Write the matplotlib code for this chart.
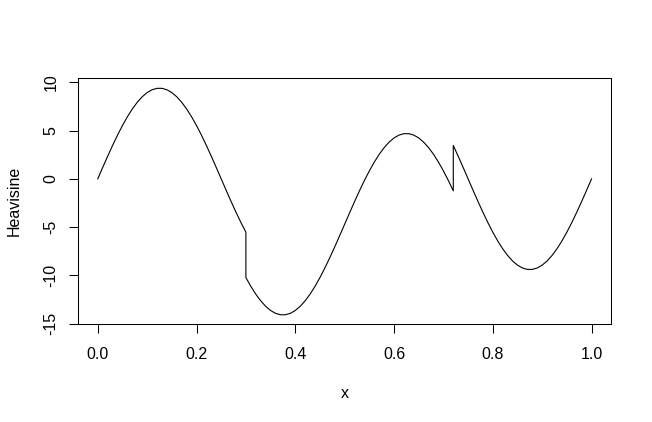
import matplotlib
matplotlib.use('Agg')
import matplotlib.pyplot as plt
import numpy as np

plt.rcParams['font.family'] = ['Liberation Sans', 'DejaVu Sans']

# Heavisine curve read off the picture, sampled every 0.01 on x,
# split at the two jumps (x = 0.30 and x = 0.72)
seg1_x = np.linspace(0.0, 0.30, 31)
seg1_y = [0.0, 1.178, 2.338, 3.460, 4.529, 5.525, 6.434, 7.243, 7.936, 8.505,
          8.940, 9.234, 9.381, 9.381, 9.234, 8.940, 8.505, 7.936, 7.243, 6.434,
          5.525, 4.529, 3.460, 2.338, 1.178, 0.0, -1.178, -2.338, -3.460, -4.529,
          -5.525]

seg2_x = np.linspace(0.30, 0.72, 43)
seg2_y = [-10.225, -11.134, -11.943, -12.636, -13.205, -13.640, -13.934, -14.081,
          -14.081, -13.934, -13.640, -13.205, -12.636, -11.943, -11.134, -10.225,
          -9.229, -8.160, -7.038, -5.878, -4.700, -3.522, -2.362, -1.240, -0.171,
          0.825, 1.734, 2.543, 3.236, 3.805, 4.240, 4.534, 4.681, 4.681, 4.534,
          4.240, 3.805, 3.236, 2.543, 1.734, 0.825, -0.171, -1.240]

seg3_x = np.linspace(0.72, 1.0, 29)
seg3_y = [3.460, 2.338, 1.178, 0.0, -1.178, -2.338, -3.460, -4.529, -5.525,
          -6.434, -7.243, -7.936, -8.505, -8.940, -9.234, -9.381, -9.381, -9.234,
          -8.940, -8.505, -7.936, -7.243, -6.434, -5.525, -4.529, -3.460, -2.338,
          -1.178, 0.0]

x_ticks = [0.0, 0.2, 0.4, 0.6, 0.8, 1.0]
x_ticklabels = ['0.0', '0.2', '0.4', '0.6', '0.8', '1.0']
y_ticks = [-15, -10, -5, 0, 5, 10]
y_ticklabels = ['-15', '-10', '-5', '0', '5', '10']

x = np.concatenate([seg1_x, seg2_x, seg3_x])
y = np.concatenate([seg1_y, seg2_y, seg3_y])

W, H = 652, 422
fig = plt.figure(figsize=(W / 100, H / 100), dpi=100)
ax = fig.add_axes([78 / W, 1 - 324.3 / H, (611.3 - 78) / W, (324.3 - 78.3) / H])

ax.plot(x, y, color='black', lw=0.8)

ax.set_xlim(-0.04, 1.04)
ax.set_ylim(-15.07, 10.42)

fs = 11.5
ax.set_xticks(x_ticks)
ax.set_xticklabels(x_ticklabels, fontsize=fs)
ax.set_yticks(y_ticks)
ax.set_yticklabels(y_ticklabels, fontsize=fs, rotation=90, va='center')
ax.tick_params(axis='x', direction='out', length=6.5, width=0.75, pad=10)
ax.tick_params(axis='y', direction='out', length=6.5, width=0.75, pad=7.6)
for s in ax.spines.values():
    s.set_linewidth(0.75)

ax.set_xlabel('x', fontsize=fs)
ax.xaxis.label.set_va('baseline')
ax.xaxis.set_label_coords(0.5, (324.3 - 398) / (324.3 - 78.3))

ax.set_ylabel('Heavisine', fontsize=fs)
ax.yaxis.label.set_rotation_mode('anchor')
ax.yaxis.label.set_va('baseline')
ax.yaxis.label.set_ha('center')
ax.yaxis.set_label_coords((18.5 - 78) / (611.3 - 78), 0.5)

fig.savefig('out.png', dpi=100)
